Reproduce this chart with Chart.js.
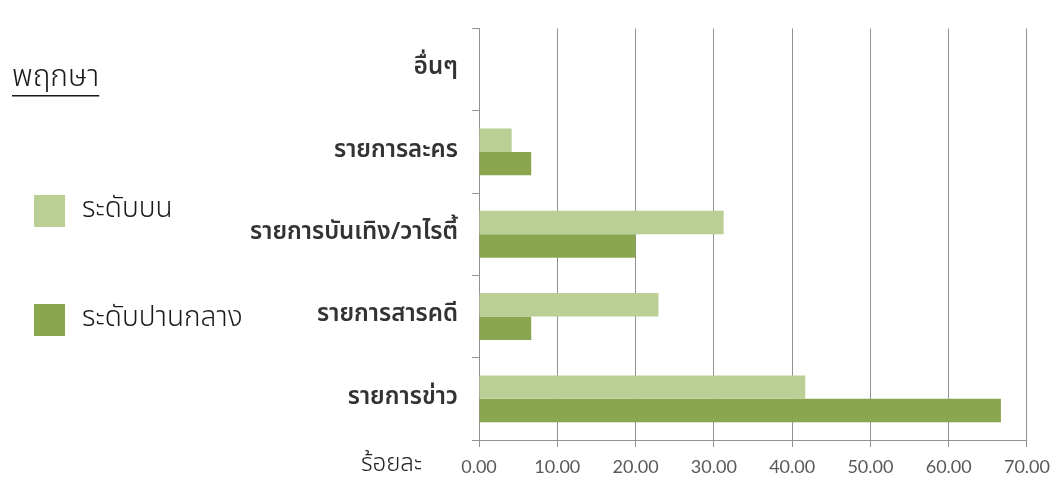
<!DOCTYPE html>
<html>
<head>
<meta charset="utf-8">
<style>
  html, body { margin: 0; padding: 0; background: #ffffff; }
  #wrap { position: relative; width: 1059px; height: 482px; }
</style>
<script src="https://cdn.jsdelivr.net/npm/chart.js@4/dist/chart.umd.min.js"></script>
</head>
<body>
<div id="wrap"><canvas id="chart" width="1059" height="482"></canvas></div>
<script>
// Programme types, top to bottom
const categories = ['อื่นๆ', 'รายการละคร', 'รายการบันเทิง/วาไรตี้', 'รายการสารคดี', 'รายการข่าว'];
// Share of respondents (%) by income level
const upperLevel = [0, 4.17, 31.25, 22.92, 41.67];
const middleLevel = [0, 6.67, 20.00, 6.67, 66.67];
const seriesNames = ['ระดับบน', 'ระดับปานกลาง'];
const xTicks = [0, 10, 20, 30, 40, 50, 60, 70];
const groupTitle = 'พฤกษา';
const axisUnit = 'ร้อยละ';

const THAI = "Tahoma, 'Noto Sans Thai', 'Noto Sans', 'DejaVu Sans', sans-serif";
const COLORS = ['#b9cf94', '#8aa64f'];
const GRID = '#919191';

// Side legend, group title and unit label
const sideText = {
  id: 'sideText',
  afterDraw(chart) {
    const ctx = chart.ctx;
    ctx.save();
    ctx.fillStyle = '#1a1a1a';
    ctx.textBaseline = 'alphabetic';
    ctx.textAlign = 'left';
    ctx.font = '300 30px ' + THAI;
    ctx.fillText(groupTitle, 12, 86);
    const w = ctx.measureText(groupTitle).width;
    ctx.fillRect(12, 95, w, 1.5);

    const rows = [211, 320];
    chart.data.datasets.forEach((ds, i) => {
      const cy = rows[i];
      ctx.fillStyle = ds.backgroundColor;
      ctx.fillRect(34, cy - 16, 31, 32);
      ctx.fillStyle = '#1a1a1a';
      ctx.font = '300 28px ' + THAI;
      ctx.textBaseline = 'middle';
      ctx.fillText(ds.label, 82, cy);
    });

    ctx.font = '300 24px ' + THAI;
    ctx.fillStyle = '#222';
    ctx.textBaseline = 'middle';
    ctx.fillText(axisUnit, 361, 466);
    ctx.restore();
  }
};

new Chart(document.getElementById('chart'), {
  type: 'bar',
  data: {
    labels: categories,
    datasets: [
      { label: seriesNames[0], data: upperLevel, backgroundColor: COLORS[0] },
      { label: seriesNames[1], data: middleLevel, backgroundColor: COLORS[1] }
    ]
  },
  options: {
    indexAxis: 'y',
    responsive: false,
    animation: false,
    devicePixelRatio: 1,
    layout: { padding: { left: 0, right: 31, top: 17, bottom: 0 } },
    datasets: { bar: { categoryPercentage: 0.57, barPercentage: 1.0, borderWidth: 0 } },
    plugins: { legend: { display: false }, tooltip: { enabled: false } },
    scales: {
      x: {
        type: 'linear',
        min: 0, max: 70,
        afterBuildTicks(scale) { scale.ticks = xTicks.map(v => ({ value: v })); },
        afterFit(scale) { scale.height = 42; },
        grid: { color: GRID, lineWidth: 1, tickLength: 7, drawTicks: true },
        border: { display: true, color: GRID, width: 1 },
        ticks: {
          color: '#595959',
          font: { family: "Lato, 'Liberation Sans', sans-serif", size: 18 },
          padding: 9,
          maxRotation: 0,
          callback: v => Number(v).toFixed(2)
        }
      },
      y: {
        type: 'category',
        offset: true,
        afterFit(scale) { scale.width = 479; },
        grid: { drawOnChartArea: false, drawTicks: true, tickLength: 7, color: GRID, offset: true },
        border: { display: true, color: GRID, width: 1 },
        ticks: {
          color: '#333333',
          font: { family: THAI, size: 24, weight: '600' },
          padding: 14
        }
      }
    }
  },
  plugins: [sideText]
});
</script>
</body>
</html>
